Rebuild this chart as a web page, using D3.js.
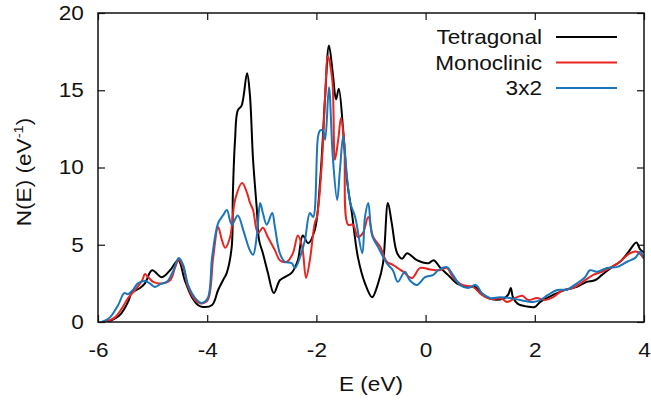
<!DOCTYPE html>
<html>
<head>
<meta charset="utf-8">
<script src="https://cdn.jsdelivr.net/npm/d3@7"></script>
<style>
  body { margin: 0; background: #fff; }
  text { font-family: "Liberation Sans", Arial, sans-serif; fill: #111; }
</style>
</head>
<body>
<svg id="chart" width="651" height="408"></svg>
<script>
// density of states
var tetraE = [-5.82,-5.6,-5.45,-5.38,-5.23,-5.14,-5.01,-4.83,-4.68,-4.53,-4.41,-4.28,-4.17,-4.08,-3.91,-3.8,-3.71,-3.64,-3.55,-3.53,-3.49,-3.44,-3.37,-3.27,-3.22,-3.16,-3.09,-3.05,-2.98,-2.89,-2.78,-2.67,-2.58,-2.45,-2.34,-2.25,-2.15,-2.03,-1.93,-1.84,-1.77,-1.7,-1.64,-1.59,-1.51,-1.44,-1.35,-1.24,-1.11,-0.98,-0.87,-0.78,-0.69,-0.62,-0.52,-0.43,-0.34,-0.16,0.05,0.15,0.26,0.41,0.57,0.76,0.9,1.05,1.18,1.42,1.51,1.56,1.6,1.69,1.86,2.0,2.1,2.22,2.46,2.59,2.77,2.95,3.1,3.23,3.41,3.56,3.71,3.86,3.93,4.0];
var tetraN = [0,0.45,1.3,1.9,2.2,2.5,3.35,2.9,3.35,4.0,2.7,1.6,1.1,0.97,1.1,2.07,2.7,3.2,4.9,8.3,11.8,13.7,14.0,16.1,14.8,10.5,7.25,5.3,4.45,3.2,1.87,2.7,2.9,3.2,4.0,5.6,5.1,5.95,9.2,14.6,17.9,16.1,14.4,15.1,12.4,9.2,7.05,4.2,2.5,1.6,2.5,3.8,7.7,6.4,4.45,4.1,4.45,4.0,3.8,4.0,3.55,3.05,2.5,2.27,2.27,1.75,1.5,1.5,1.75,2.2,1.6,1.17,1.0,0.97,1.3,1.55,1.95,2.1,2.27,2.6,2.7,3.05,3.55,3.9,4.5,5.15,4.7,4.5];

var monoE = [-5.87,-5.69,-5.56,-5.45,-5.32,-5.19,-5.14,-5.08,-4.99,-4.83,-4.68,-4.59,-4.52,-4.44,-4.35,-4.22,-4.1,-3.99,-3.89,-3.8,-3.73,-3.67,-3.58,-3.49,-3.36,-3.27,-3.22,-3.16,-3.07,-2.98,-2.89,-2.76,-2.67,-2.54,-2.43,-2.34,-2.26,-2.19,-2.12,-2.03,-1.99,-1.9,-1.84,-1.79,-1.71,-1.66,-1.6,-1.55,-1.49,-1.42,-1.33,-1.24,-1.15,-1.05,-0.96,-0.83,-0.71,-0.6,-0.41,-0.25,-0.1,0.08,0.26,0.39,0.5,0.67,0.87,1.03,1.18,1.4,1.49,1.64,1.77,1.88,2.04,2.19,2.33,2.52,2.7,2.88,3.07,3.23,3.38,3.56,3.74,3.87,4.0];
var monoN = [0,0.3,0.9,1.55,2.07,2.7,3.1,2.9,2.6,2.5,2.7,3.5,4.05,3.55,2.27,1.42,1.2,1.42,4.2,6.15,5.3,4.8,5.5,7.9,9.0,8.35,7.75,7.25,5.75,6.1,5.5,4.65,4.0,3.9,4.45,5.6,4.85,2.85,4.0,6.4,6.8,10.3,14.6,17.2,15.7,10.5,11.8,13.2,11.6,6.3,6.3,5.5,5.75,6.8,5.5,4.85,3.9,3.7,3.25,2.85,3.5,3.4,3.35,3.5,2.9,2.4,2.27,1.75,1.5,1.5,1.3,1.55,1.7,1.42,1.55,1.42,1.6,2.07,2.2,2.6,3.05,3.25,3.5,3.9,4.45,4.55,4.1];

var blueE = [-5.93,-5.78,-5.63,-5.52,-5.45,-5.36,-5.27,-5.14,-5.05,-4.96,-4.86,-4.74,-4.63,-4.52,-4.44,-4.35,-4.22,-4.1,-3.99,-3.91,-3.8,-3.71,-3.64,-3.55,-3.44,-3.34,-3.22,-3.16,-3.09,-3.03,-2.98,-2.91,-2.81,-2.76,-2.67,-2.58,-2.45,-2.39,-2.3,-2.21,-2.12,-2.06,-1.97,-1.93,-1.88,-1.84,-1.77,-1.7,-1.62,-1.57,-1.51,-1.44,-1.38,-1.29,-1.16,-1.11,-1.05,-0.98,-0.87,-0.71,-0.6,-0.51,-0.38,-0.29,-0.16,-0.01,0.14,0.23,0.39,0.5,0.63,0.78,0.92,1.03,1.18,1.36,1.55,1.73,1.97,2.1,2.24,2.41,2.59,2.77,2.92,3.01,3.14,3.32,3.5,3.69,3.84,3.93,4.0];
var blueN = [0,0.3,1.1,1.87,1.8,2.07,2.5,2.65,2.5,2.27,2.45,2.6,3.25,4.15,3.7,2.4,1.55,1.23,1.55,4.2,6.4,6.9,7.25,6.3,6.9,5.95,4.65,4.35,5.6,7.7,7.05,6.3,7.05,6.15,4.45,3.9,3.8,3.5,4.2,5.3,7.05,6.8,12.0,12.4,12.4,11.8,15.2,10.7,7.9,9.8,12.0,9.4,7.7,6.8,4.45,6.8,7.7,5.6,4.85,3.8,3.35,2.6,3.25,2.7,2.4,2.9,3.05,3.35,3.55,3.05,2.4,2.2,2.4,1.87,1.55,1.6,1.55,1.42,1.3,1.42,1.75,2.07,2.1,2.5,2.9,3.35,3.25,3.5,3.55,3.9,4.15,4.55,4.1];

var seriesNames = ["Tetragonal", "Monoclinic", "3x2"];
var seriesColors = ["#000000", "#e8261f", "#1a75bb"];
var xTicks = [-6, -4, -2, 0, 2, 4];
var yTicks = [0, 5, 10, 15, 20];

var svg = d3.select("#chart");
var mLeft = 98, mRight = 644, mTop = 13, mBottom = 322;
var fs = "20px", sx = 1.13; // text in the picture is a bit wide

var x = d3.scaleLinear().domain([-6, 4]).range([mLeft, mRight]);
var y = d3.scaleLinear().domain([0, 20]).range([mBottom, mTop]);

var series = [
  {E: tetraE, N: tetraN},
  {E: monoE, N: monoN},
  {E: blueE, N: blueN}
];

var line = d3.line()
  .x(function(d) { return x(d[0]); })
  .y(function(d) { return y(d[1]); })
  .curve(d3.curveCatmullRom.alpha(0.5));

svg.append("clipPath").attr("id", "clip")
  .append("rect").attr("x", mLeft).attr("y", mTop)
  .attr("width", mRight - mLeft).attr("height", mBottom - mTop);

series.forEach(function(s, i) {
  var pts = s.E.map(function(e, j) { return [e, s.N[j]]; });
  svg.append("path")
    .datum(pts)
    .attr("d", line)
    .attr("clip-path", "url(#clip)")
    .attr("fill", "none")
    .attr("stroke", seriesColors[i])
    .attr("stroke-width", 2)
    .attr("stroke-linejoin", "round");
});

// axes, ticks pointing inwards, mirrored on top and right
function styleLabels(g) {
  g.select(".domain").remove();
  g.selectAll(".tick text")
    .attr("fill", "#111")
    .attr("transform", "scale(" + sx + ",1)")
    .style("font-size", fs)
    .style("font-family", "Liberation Sans, Arial, sans-serif")
    .text(function(d) { return String(d); }); // plain hyphen like the original
}
function noLabels(g) {
  g.select(".domain").remove();
  g.selectAll(".tick text").remove();
}

svg.append("g").attr("transform", "translate(0," + mBottom + ")")
  .call(d3.axisBottom(x).tickValues(xTicks).tickSizeInner(-7).tickSizeOuter(0).tickPadding(21))
  .call(styleLabels);
svg.append("g").attr("transform", "translate(0," + mTop + ")")
  .call(d3.axisTop(x).tickValues(xTicks).tickSizeInner(-7).tickSizeOuter(0))
  .call(noLabels);
svg.append("g").attr("transform", "translate(" + mLeft + ",0)")
  .call(d3.axisLeft(y).tickValues(yTicks).tickSizeInner(-7).tickSizeOuter(0).tickPadding(12.5))
  .call(styleLabels);
svg.append("g").attr("transform", "translate(" + mRight + ",0)")
  .call(d3.axisRight(y).tickValues(yTicks).tickSizeInner(-7).tickSizeOuter(0))
  .call(noLabels);

svg.selectAll(".tick line").attr("stroke", "#111").attr("stroke-width", 1.2);

svg.append("rect")
  .attr("x", mLeft).attr("y", mTop)
  .attr("width", mRight - mLeft).attr("height", mBottom - mTop)
  .attr("fill", "none").attr("stroke", "#111").attr("stroke-width", 1.5);

// axis titles
svg.append("text")
  .attr("transform", "translate(" + ((mLeft + mRight) / 2) + ",391) scale(" + sx + ",1)")
  .attr("text-anchor", "middle").style("font-size", fs)
  .text("E (eV)");

var yl = svg.append("text")
  .attr("transform", "translate(31,172) rotate(-90) scale(" + sx + ",1)")
  .attr("text-anchor", "middle").style("font-size", fs);
yl.append("tspan").text("N(E) (eV");
yl.append("tspan").attr("dy", -8).style("font-size", "13px").text("-1");
yl.append("tspan").attr("dy", 8).text(")");

// legend
var legend = svg.append("g");
seriesNames.forEach(function(name, i) {
  var ly = 37 + i * 25.5;
  legend.append("text")
    .attr("transform", "translate(542," + ly + ") scale(" + sx + ",1)")
    .attr("dy", "0.35em")
    .attr("text-anchor", "end").style("font-size", fs)
    .text(name);
  legend.append("line")
    .attr("x1", 556).attr("x2", 617).attr("y1", ly).attr("y2", ly)
    .attr("stroke", seriesColors[i]).attr("stroke-width", 2);
});
</script>
</body>
</html>
